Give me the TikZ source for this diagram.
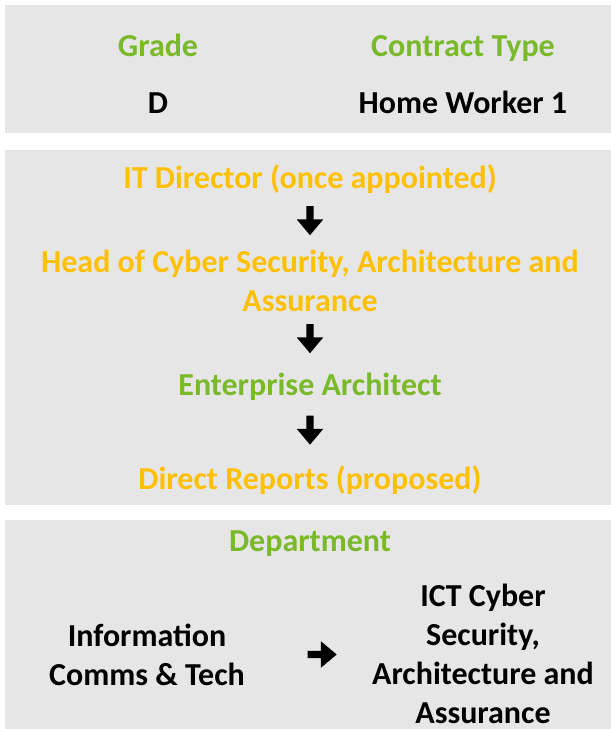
\documentclass[tikz,border=0pt]{standalone}
\usepackage{fontspec}
\setmainfont{Carlito}
\usetikzlibrary{shapes.arrows}
\definecolor{leafgreen}{HTML}{7AB929}
\definecolor{gold}{HTML}{FFC000}
\definecolor{panelgrey}{HTML}{E6E6E6}
\tikzstyle{panel}=[fill=panelgrey,draw=none]
\tikzstyle{entry}=[font=\fontsize{32}{39}\selectfont\bfseries,align=center,inner sep=0pt,anchor=base]
\tikzstyle{green}=[entry,text=leafgreen]
\tikzstyle{orange}=[entry,text=gold]
\tikzstyle{plain}=[entry,text=black]
\tikzstyle{pointer}=[single arrow,fill=black,draw=none,inner sep=3.5pt,minimum height=29pt,
  single arrow head extend=9.5pt,single arrow tip angle=80,single arrow head indent=0pt]

\begin{document}
\begin{tikzpicture}[x=1pt,y=1pt]
  \useasboundingbox (0,0) rectangle (611,-729);
  % panels
  \fill[panel] (5,-5) rectangle (611,-133);
  \fill[panel] (5,-150) rectangle (611,-505);
  \fill[panel] (5,-520) rectangle (611,-729);
  % grade and contract
  \node[green] (grade) at (158,-56) {Grade};
  \node[green] (contract) at (463,-56) {Contract Type};
  \node[plain] (gradeval) at (158,-113) {D};
  \node[plain] (contractval) at (463,-113) {Home Worker 1};
  % reporting line
  \node[orange] (director) at (310,-188) {IT Director (once appointed)};
  \node[pointer,rotate=-90] (down1) at (310,-218.5) {};
  \node[orange] (head) at (310,-311) {Head of Cyber Security, Architecture and\\Assurance};
  \node[pointer,rotate=-90] (down2) at (310,-336.5) {};
  \node[green] (architect) at (310,-395) {Enterprise Architect};
  \node[pointer,rotate=-90] (down3) at (310,-428) {};
  \node[orange] (reports) at (310,-489) {Direct Reports (proposed)};
  % department
  \node[green] (dept) at (310,-551) {Department};
  \node[plain] (olddept) at (147,-685) {Information\\Comms \& Tech};
  \node[pointer] (across) at (320,-654.5) {};
  \node[plain] (newdept) at (483,-723) {ICT Cyber\\Security,\\Architecture and\\Assurance};
\end{tikzpicture}
\end{document}
